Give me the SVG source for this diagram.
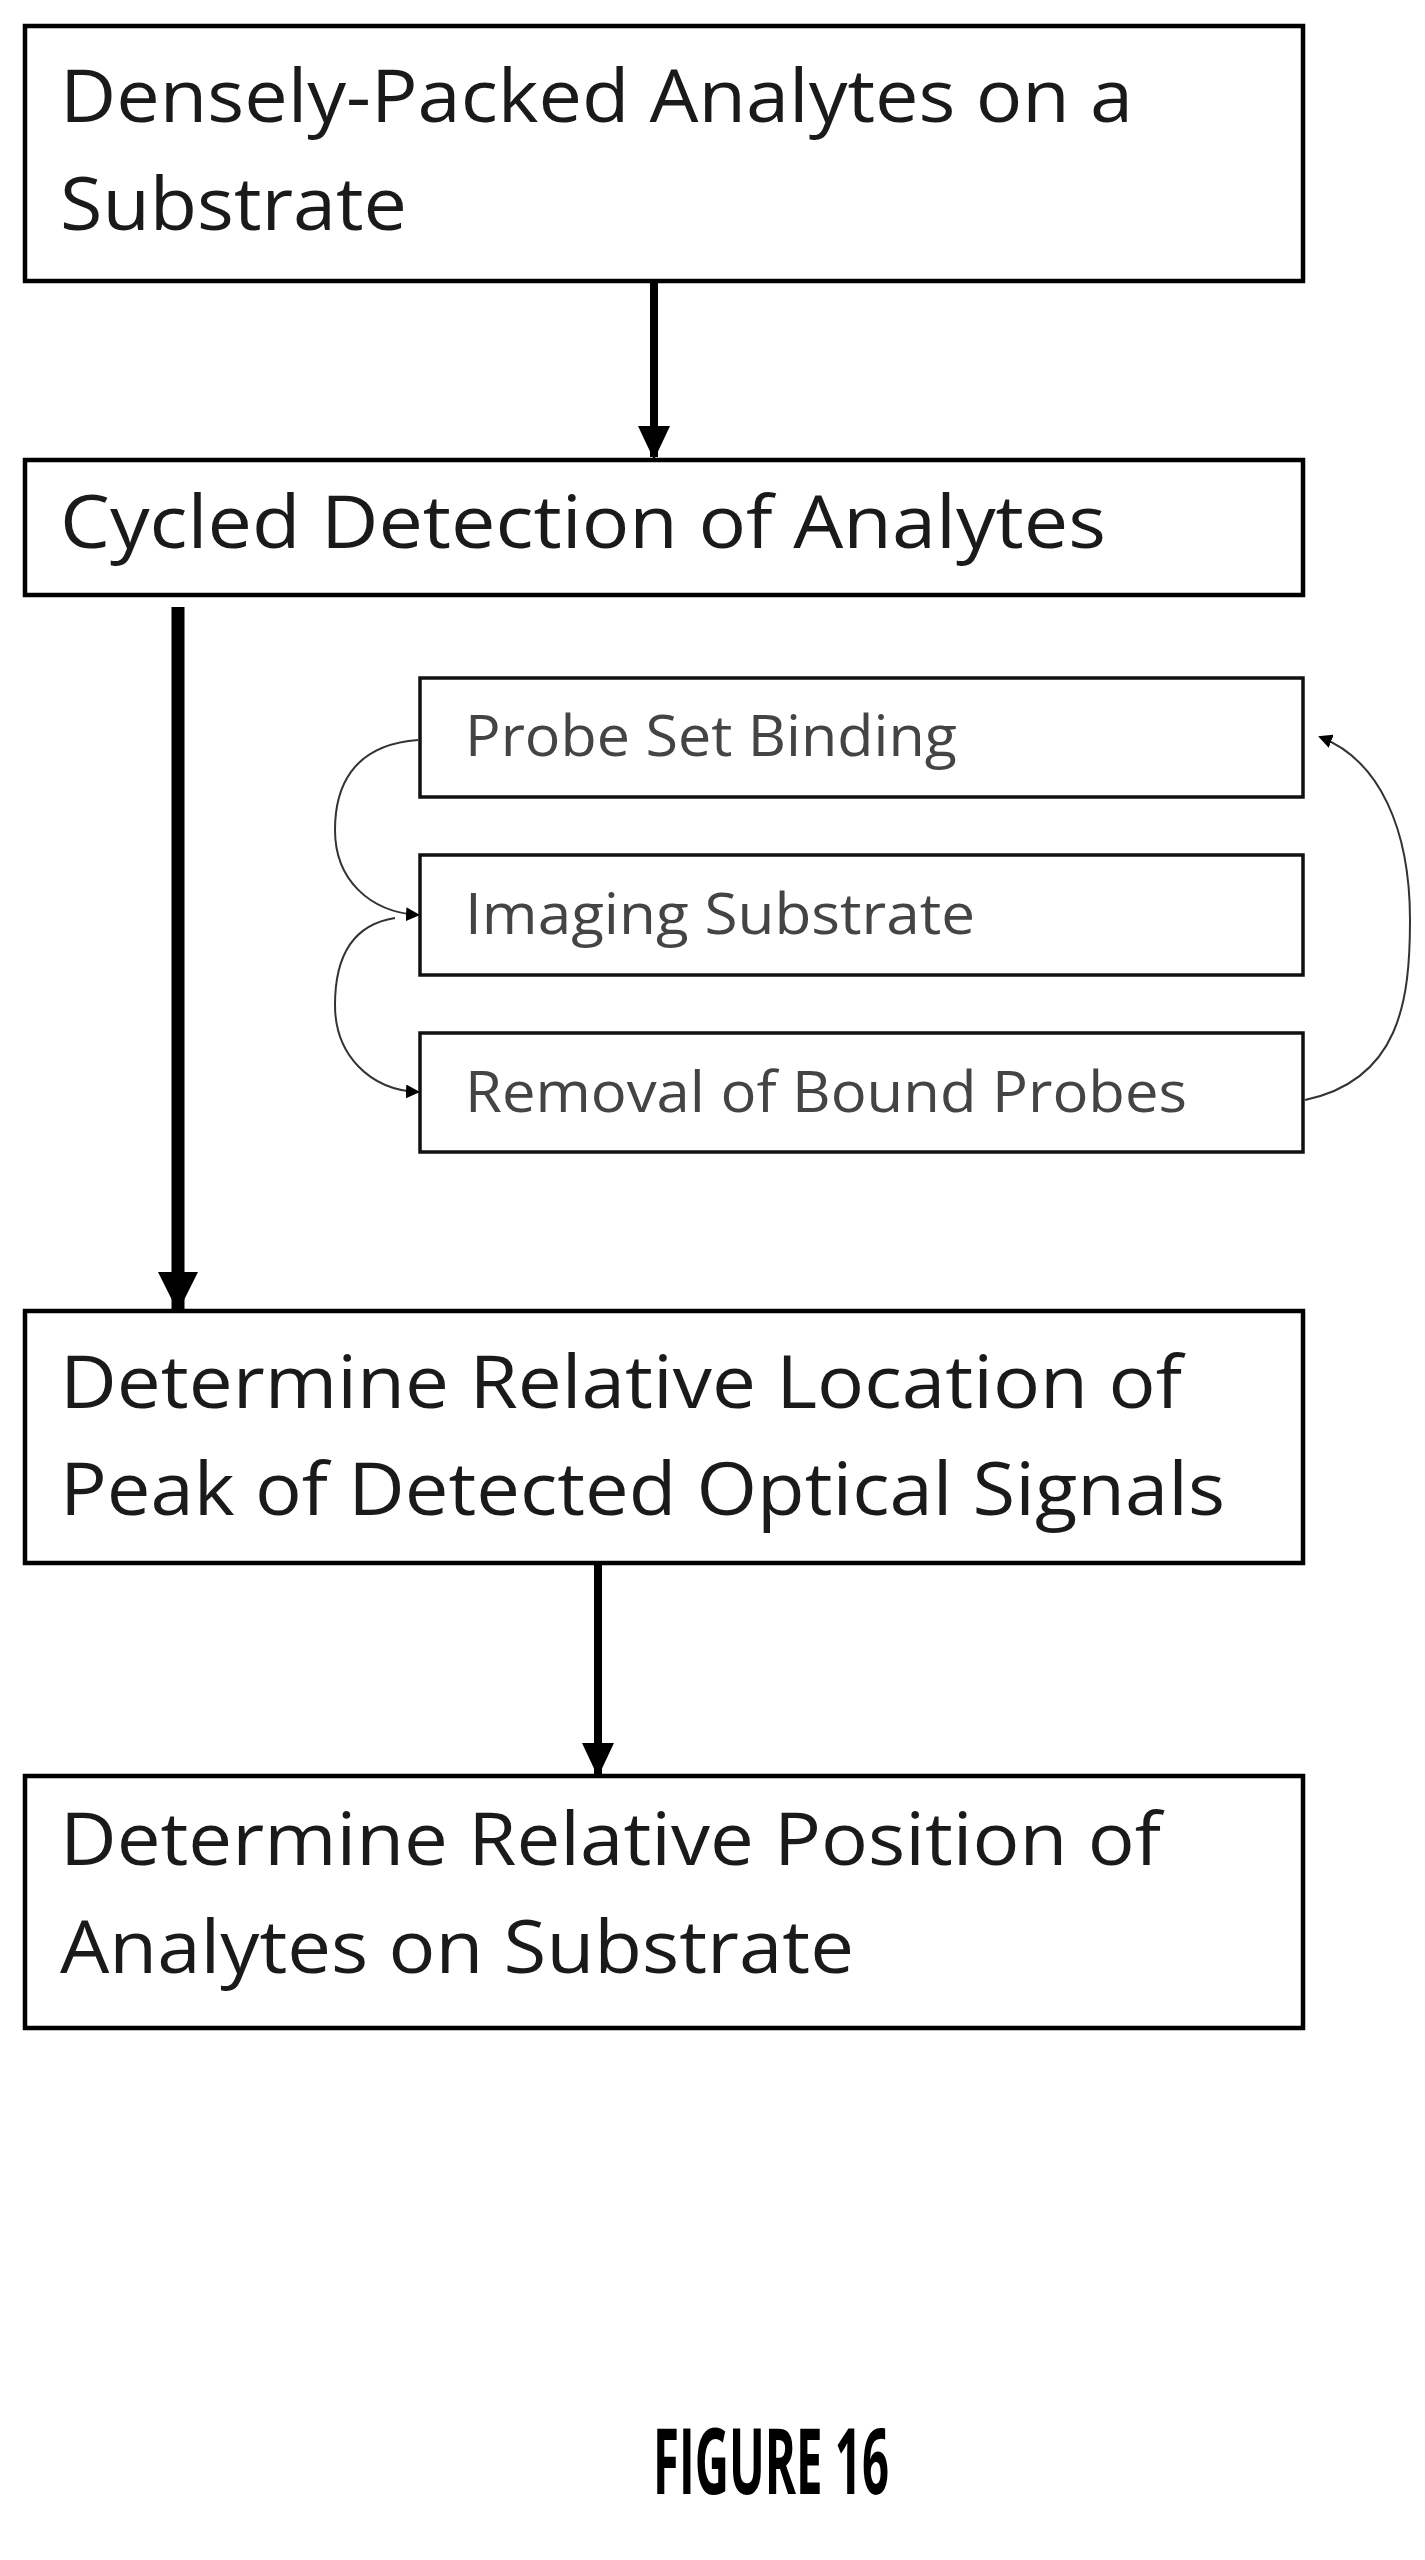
<svg xmlns="http://www.w3.org/2000/svg" width="1425" height="2560" viewBox="0 0 1425 2560">
<style>
.box{fill:#fff;stroke:#000;stroke-width:4.5}
.sbox{fill:#fff;stroke:#111;stroke-width:3.5}
.t{font-family:"Open Sans","Liberation Sans",sans-serif;font-size:74px;fill:#1a1a1a}
.s{font-family:"Open Sans","Liberation Sans",sans-serif;font-size:57px;fill:#444}
.thick{stroke:#000;fill:none}
.thin{stroke:#333;stroke-width:2;fill:none}
</style>
<defs>
<marker id="ah" markerWidth="34" markerHeight="32" refX="31" refY="16" orient="auto" markerUnits="userSpaceOnUse"><path d="M0,0L34,16L0,32z" fill="#000"/></marker>
<marker id="bh" markerWidth="40" markerHeight="40" refX="37" refY="20" orient="auto" markerUnits="userSpaceOnUse"><path d="M0,0L40,20L0,40z" fill="#000"/></marker>
<marker id="sh" markerWidth="14" markerHeight="14" refX="12" refY="7" orient="auto" markerUnits="userSpaceOnUse"><path d="M0,0L14,7L0,14z" fill="#000"/></marker>
</defs>
<g id="n1"><rect class="box" x="25" y="26" width="1278" height="255"/>
<text class="t" x="60" y="122" textLength="1073" lengthAdjust="spacingAndGlyphs">Densely-Packed Analytes on a</text>
<text class="t" x="60" y="230" textLength="347" lengthAdjust="spacingAndGlyphs">Substrate</text></g>
<g id="n2"><rect class="box" x="25" y="460" width="1278" height="135"/>
<text class="t" x="60" y="548" textLength="1046" lengthAdjust="spacingAndGlyphs">Cycled Detection of Analytes</text></g>
<g id="n3"><rect class="sbox" x="420" y="678" width="883" height="119"/>
<text class="s" x="465" y="756" textLength="492" lengthAdjust="spacingAndGlyphs">Probe Set Binding</text></g>
<g id="n4"><rect class="sbox" x="420" y="855" width="883" height="120"/>
<text class="s" x="465" y="934" textLength="510" lengthAdjust="spacingAndGlyphs">Imaging Substrate</text></g>
<g id="n5"><rect class="sbox" x="420" y="1033" width="883" height="119"/>
<text class="s" x="465" y="1112" textLength="722" lengthAdjust="spacingAndGlyphs">Removal of Bound Probes</text></g>
<g id="n6"><rect class="box" x="25" y="1311" width="1278" height="252"/>
<text class="t" x="60" y="1408" textLength="1122" lengthAdjust="spacingAndGlyphs">Determine Relative Location of</text>
<text class="t" x="60" y="1515" textLength="1165" lengthAdjust="spacingAndGlyphs">Peak of Detected Optical Signals</text></g>
<g id="n7"><rect class="box" x="25" y="1776" width="1278" height="252"/>
<text class="t" x="60" y="1865" textLength="1101" lengthAdjust="spacingAndGlyphs">Determine Relative Position of</text>
<text class="t" x="60" y="1973" textLength="794" lengthAdjust="spacingAndGlyphs">Analytes on Substrate</text></g>
<text x="771" y="2494" text-anchor="middle" font-family="'Open Sans','Liberation Sans',sans-serif" font-weight="bold" font-size="92" fill="#000" textLength="236" lengthAdjust="spacingAndGlyphs">FIGURE 16</text>
<g id="connectors">
<line class="thick" x1="654" y1="283" x2="654" y2="457" stroke-width="8" marker-end="url(#ah)"/>
<line class="thick" x1="178" y1="607" x2="178" y2="1309" stroke-width="13" marker-end="url(#bh)"/>
<line class="thick" x1="598" y1="1565" x2="598" y2="1774" stroke-width="8" marker-end="url(#ah)"/>
<path class="thin" d="M418,740 C350,745 335,790 335,830 C335,880 370,912 418,915" marker-end="url(#sh)"/>
<path class="thin" d="M395,918 C350,925 335,960 335,1005 C335,1055 370,1090 418,1092" marker-end="url(#sh)"/>
<path class="thin" d="M1305,1100 C1400,1080 1410,1000 1410,920 C1410,830 1380,760 1320,737" marker-end="url(#sh)"/>
</g>
</svg>
